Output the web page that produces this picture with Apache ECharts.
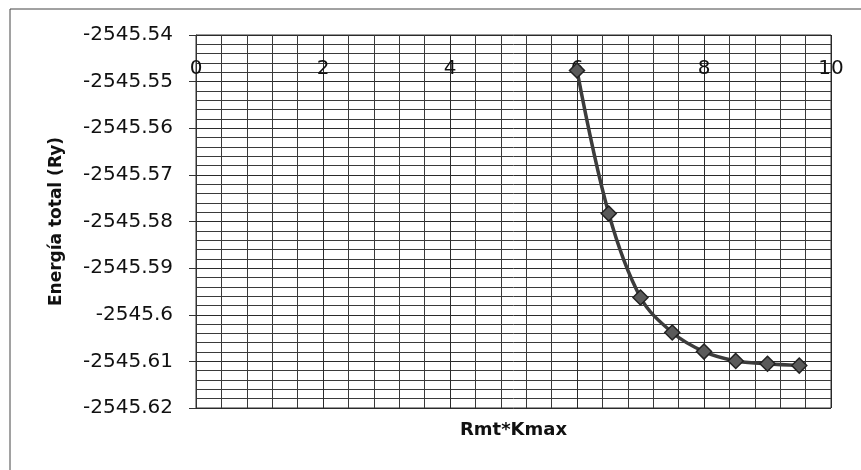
<!DOCTYPE html>
<html>
<head>
<meta charset="utf-8">
<script src="https://cdn.jsdelivr.net/npm/echarts@6/dist/echarts.min.js"></script>
<style>
  html, body { margin: 0; padding: 0; background: #fff; }
  #chart { width: 861px; height: 470px; }
</style>
</head>
<body>
<div id="chart"></div>
<script>
// Convergence of total energy with the basis-set cutoff Rmt*Kmax
const rkmax = [6, 6.5, 7, 7.5, 8, 8.5, 9, 9.5];
const energy = [-2545.5476, -2545.5783, -2545.5963, -2545.6038, -2545.6079, -2545.6099, -2545.6105, -2545.6109];
const xTicks = [0, 2, 4, 6, 8, 10];
const yRange = [-2545.62, -2545.54];

const points = rkmax.map((x, i) => [x, energy[i]]);
const labelFont = 'DejaVu Sans';

const chart = echarts.init(document.getElementById('chart'), null, { renderer: 'canvas' });
chart.setOption({
  animation: false,
  backgroundColor: '#fff',
  grid: {
    left: 196, top: 35, right: 30, bottom: 62,
    show: true, borderColor: '#333', borderWidth: 1
  },
  graphic: [{
    type: 'rect',
    shape: { x: 10, y: 9, width: 900, height: 520 },
    style: { fill: 'none', stroke: '#444', lineWidth: 1 },
    silent: true, z: -1
  }],
  xAxis: [{
    type: 'value',
    position: 'top',
    min: xTicks[0], max: xTicks[xTicks.length - 1], interval: 2,
    axisLine: { show: false },
    axisTick: { show: false },
    axisLabel: {
      inside: true, margin: 24,
      fontFamily: labelFont, fontSize: 20, color: '#111',
      formatter: v => (xTicks.includes(v) ? String(v) : '')
    },
    splitLine: { show: true, lineStyle: { color: '#2a2a2a', width: 1 } },
    minorTick: { show: false, splitNumber: 5 },
    minorSplitLine: { show: true, lineStyle: { color: '#3a3a3a', width: 1 } }
  }, {
    type: 'value',
    position: 'bottom',
    min: xTicks[0], max: xTicks[xTicks.length - 1],
    axisLine: { show: false }, axisTick: { show: false },
    axisLabel: { show: false }, splitLine: { show: false },
    name: 'Rmt*Kmax', nameLocation: 'middle', nameGap: 13,
    nameTextStyle: { fontFamily: labelFont, fontWeight: 'bold', fontSize: 18, color: '#111' }
  }],
  yAxis: {
    type: 'value',
    min: yRange[0], max: yRange[1], interval: 0.01,
    name: 'Energía total (Ry)', nameLocation: 'middle', nameGap: 131,
    nameTextStyle: { fontFamily: labelFont, fontWeight: 'bold', fontSize: 17, color: '#111' },
    axisLine: { show: true, lineStyle: { color: '#333' } },
    axisTick: { show: true, length: 7, lineStyle: { color: '#333' } },
    axisLabel: {
      margin: 23,
      fontFamily: labelFont, fontSize: 20, color: '#111',
      formatter: v => String(parseFloat(v.toFixed(2)))
    },
    splitLine: { show: true, lineStyle: { color: '#2a2a2a', width: 1 } },
    minorTick: { show: false, splitNumber: 5 },
    minorSplitLine: { show: true, lineStyle: { color: '#3a3a3a', width: 1 } }
  },
  series: [{
    type: 'line',
    xAxisIndex: 0,
    data: points,
    smooth: 0.35,
    symbol: 'diamond',
    symbolSize: 15,
    lineStyle: { color: '#3c3c3c', width: 3.5 },
    itemStyle: { color: '#5a5a5a', borderColor: '#222', borderWidth: 1.5 },
    z: 5
  }]
});
</script>
</body>
</html>
